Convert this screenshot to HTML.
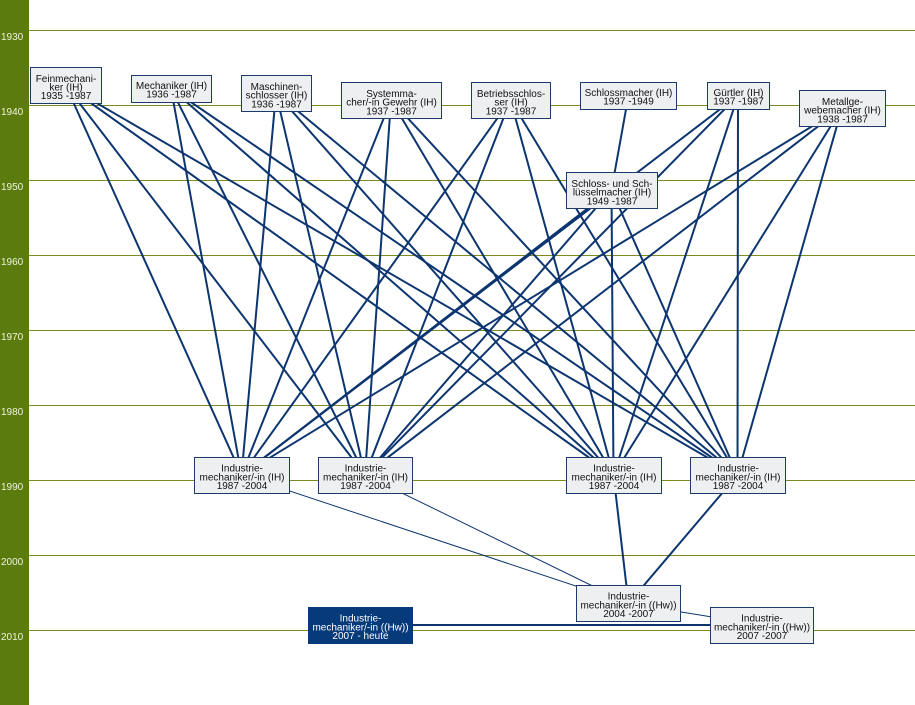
<!DOCTYPE html>
<html>
<head>
<meta charset="utf-8">
<style>
  html, body { margin:0; padding:0; background:#fff; }
  body { width:915px; height:705px; overflow:hidden; }
  svg { display:block; }
  text { font-family:"Liberation Sans", Arial, sans-serif; font-size:10px; fill:#111; }
  .yr { fill:#eef3dc; font-size:10px; }
  .w { fill:#fff; }
</style>
</head>
<body>
<svg width="915" height="705" viewBox="0 0 915 705" xmlns="http://www.w3.org/2000/svg">
  <rect x="0" y="0" width="915" height="705" fill="#fff"/>
  <!-- left bar -->
  <rect x="0" y="0" width="29" height="705" fill="#5c7b0f"/>
  <!-- grid lines -->
  <g stroke="#7d8b1f" stroke-width="1">
    <line x1="29" y1="30.5" x2="915" y2="30.5"/>
    <line x1="29" y1="105.5" x2="915" y2="105.5"/>
    <line x1="29" y1="180.5" x2="915" y2="180.5"/>
    <line x1="29" y1="255.5" x2="915" y2="255.5"/>
    <line x1="29" y1="330.5" x2="915" y2="330.5"/>
    <line x1="29" y1="405.5" x2="915" y2="405.5"/>
    <line x1="29" y1="480.5" x2="915" y2="480.5"/>
    <line x1="29" y1="555.5" x2="915" y2="555.5"/>
    <line x1="29" y1="630.5" x2="915" y2="630.5"/>
  </g>
  <g class="yrs">
    <text class="yr" x="1" y="40">1930</text>
    <text class="yr" x="1" y="115">1940</text>
    <text class="yr" x="1" y="190">1950</text>
    <text class="yr" x="1" y="265">1960</text>
    <text class="yr" x="1" y="340">1970</text>
    <text class="yr" x="1" y="415">1980</text>
    <text class="yr" x="1" y="490">1990</text>
    <text class="yr" x="1" y="565">2000</text>
    <text class="yr" x="1" y="640">2010</text>
  </g>

  <!-- connectors -->
  <g stroke="#0d3570" stroke-width="2" fill="none">
    <!-- F -->
    <line x1="65.5" y1="85" x2="241.5" y2="475"/>
    <line x1="65.5" y1="85" x2="365" y2="475"/>
    <line x1="65.5" y1="85" x2="613.5" y2="475"/>
    <line x1="65.5" y1="85" x2="737.5" y2="475"/>
    <!-- M -->
    <line x1="171" y1="88.5" x2="241.5" y2="475"/>
    <line x1="171" y1="88.5" x2="365" y2="475"/>
    <line x1="171" y1="88.5" x2="613.5" y2="475"/>
    <line x1="171" y1="88.5" x2="737.5" y2="475"/>
    <!-- MS -->
    <line x1="276" y1="93" x2="241.5" y2="475"/>
    <line x1="276" y1="93" x2="365" y2="475"/>
    <line x1="276" y1="93" x2="613.5" y2="475"/>
    <line x1="276" y1="93" x2="737.5" y2="475"/>
    <!-- S -->
    <line x1="391" y1="100" x2="241.5" y2="475"/>
    <line x1="391" y1="100" x2="365" y2="475"/>
    <line x1="391" y1="100" x2="613.5" y2="475"/>
    <line x1="391" y1="100" x2="737.5" y2="475"/>
    <!-- B -->
    <line x1="510.5" y1="100" x2="241.5" y2="475"/>
    <line x1="510.5" y1="100" x2="365" y2="475"/>
    <line x1="510.5" y1="100" x2="613.5" y2="475"/>
    <line x1="510.5" y1="100" x2="737.5" y2="475"/>
    <!-- G -->
    <line x1="738" y1="95.5" x2="241.5" y2="475"/>
    <line x1="738" y1="95.5" x2="365" y2="475"/>
    <line x1="738" y1="95.5" x2="613.5" y2="475"/>
    <line x1="738" y1="95.5" x2="737.5" y2="475"/>
    <!-- MG -->
    <line x1="842" y1="108" x2="241.5" y2="475"/>
    <line x1="842" y1="108" x2="365" y2="475"/>
    <line x1="842" y1="108" x2="613.5" y2="475"/>
    <line x1="842" y1="108" x2="737.5" y2="475"/>
    <!-- SS -->
    <line x1="611.5" y1="190" x2="241.5" y2="475"/>
    <line x1="611.5" y1="190" x2="365" y2="475"/>
    <line x1="611.5" y1="190" x2="613.5" y2="475"/>
    <line x1="611.5" y1="190" x2="737.5" y2="475"/>
    <!-- SM -> SS -->
    <line x1="628.5" y1="95.5" x2="611.5" y2="190"/>
    <!-- IM3, IM4 -> H04 -->
    <line x1="613.5" y1="475" x2="628.5" y2="603.5"/>
    <line x1="737.5" y1="475" x2="628.5" y2="603.5"/>
    <!-- D -> H07 -->
    <line x1="360" y1="625" x2="761.5" y2="625"/>
  </g>
  <g stroke="#0d3570" stroke-width="1" fill="none">
    <line x1="241.5" y1="475" x2="628.5" y2="603.5"/>
    <line x1="365" y1="475" x2="628.5" y2="603.5"/>
    <line x1="628.5" y1="603.5" x2="761.5" y2="625"/>
  </g>

  <!-- nodes -->
  <g fill="#eeeff1" stroke="#1c3b68" stroke-width="1">
    <rect x="30.5" y="67.5" width="71" height="36"/>
    <rect x="131.5" y="75.5" width="80" height="27"/>
    <rect x="241.5" y="75.5" width="70" height="36"/>
    <rect x="341.5" y="82.5" width="100" height="36"/>
    <rect x="471.5" y="82.5" width="79" height="36"/>
    <rect x="580.5" y="82.5" width="96" height="27"/>
    <rect x="707.5" y="82.5" width="62" height="27"/>
    <rect x="799.5" y="90.5" width="86" height="36"/>
    <rect x="566.5" y="172.5" width="91" height="36"/>
    <rect x="194.5" y="457.5" width="95" height="36"/>
    <rect x="318.5" y="457.5" width="94" height="36"/>
    <rect x="566.5" y="457.5" width="95" height="36"/>
    <rect x="690.5" y="457.5" width="95" height="36"/>
    <rect x="576.5" y="585.5" width="104" height="36"/>
    <rect x="710.5" y="607.5" width="103" height="36"/>
  </g>
  <rect x="308" y="607" width="105" height="37" fill="#073a78"/>

  <g text-anchor="middle">
    <!-- F -->
    <text x="66" y="82">Feinmechani-</text>
    <text x="66" y="90.5">ker (IH)</text>
    <text x="66" y="99.2">1935 -1987</text>
    <!-- M -->
    <text x="171.5" y="89">Mechaniker (IH)</text>
    <text x="171.5" y="97.5">1936 -1987</text>
    <!-- MS -->
    <text x="276.5" y="90">Maschinen-</text>
    <text x="276.5" y="98.7">schlosser (IH)</text>
    <text x="276.5" y="107.4">1936 -1987</text>
    <!-- S -->
    <text x="391.5" y="97">Systemma-</text>
    <text x="391.5" y="105.7">cher/-in Gewehr (IH)</text>
    <text x="391.5" y="114.4">1937 -1987</text>
    <!-- B -->
    <text x="511" y="97">Betriebsschlos-</text>
    <text x="511" y="105.7">ser (IH)</text>
    <text x="511" y="114.4">1937 -1987</text>
    <!-- SM -->
    <text x="628.5" y="96">Schlossmacher (IH)</text>
    <text x="628.5" y="104.5">1937 -1949</text>
    <!-- G -->
    <text x="738.5" y="96">Gürtler (IH)</text>
    <text x="738.5" y="104.5">1937 -1987</text>
    <!-- MG -->
    <text x="842.5" y="105">Metallge-</text>
    <text x="842.5" y="113.7">webemacher (IH)</text>
    <text x="842.5" y="122.4">1938 -1987</text>
    <!-- SS -->
    <text x="612" y="187">Schloss- und Sch-</text>
    <text x="612" y="195.7">lüsselmacher (IH)</text>
    <text x="612" y="204.4">1949 -1987</text>
    <!-- IM1..4 -->
    <text x="242" y="471.5">Industrie-</text>
    <text x="242" y="480.3">mechaniker/-in (IH)</text>
    <text x="242" y="489">1987 -2004</text>
    <text x="365.5" y="471.5">Industrie-</text>
    <text x="365.5" y="480.3">mechaniker/-in (IH)</text>
    <text x="365.5" y="489">1987 -2004</text>
    <text x="614" y="471.5">Industrie-</text>
    <text x="614" y="480.3">mechaniker/-in (IH)</text>
    <text x="614" y="489">1987 -2004</text>
    <text x="738" y="471.5">Industrie-</text>
    <text x="738" y="480.3">mechaniker/-in (IH)</text>
    <text x="738" y="489">1987 -2004</text>
    <!-- H04 -->
    <text x="628.5" y="599.5">Industrie-</text>
    <text x="628.5" y="608.3">mechaniker/-in ((Hw))</text>
    <text x="628.5" y="617">2004 -2007</text>
    <!-- H07 -->
    <text x="762" y="621.5">Industrie-</text>
    <text x="762" y="630.3">mechaniker/-in ((Hw))</text>
    <text x="762" y="639">2007 -2007</text>
    <!-- Dark -->
    <text class="w" x="360.5" y="621.5">Industrie-</text>
    <text class="w" x="360.5" y="630.3">mechaniker/-in ((Hw))</text>
    <text class="w" x="360.5" y="639">2007 - heute</text>
  </g>
</svg>
</body>
</html>
